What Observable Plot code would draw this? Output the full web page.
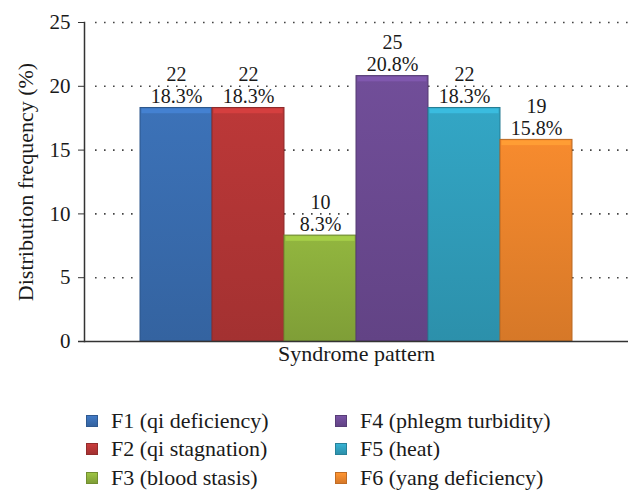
<!DOCTYPE html>
<html><head><meta charset="utf-8">
<script src="https://cdn.jsdelivr.net/npm/d3@7"></script>
<script src="https://cdn.jsdelivr.net/npm/@observablehq/plot@0.6"></script>
<style>
body{margin:0;background:#fff;font-family:"Liberation Serif","DejaVu Serif",serif;}
#legend{position:relative;width:642px;height:112px;}
.item{position:absolute;display:flex;align-items:center;height:22px;font-size:22px;color:#1a1a1a;line-height:1;white-space:nowrap;}
.sw{width:12px;height:12px;margin-right:13px;box-sizing:border-box;}
</style></head><body>
<div id="chart"></div><div id="legend"></div>
<script>
const codes = ["F1", "F2", "F3", "F4", "F5", "F6"];
const categories = ["F1 (qi deficiency)", "F2 (qi stagnation)", "F3 (blood stasis)", "F4 (phlegm turbidity)", "F5 (heat)", "F6 (yang deficiency)"];
const counts = [22, 22, 10, 25, 22, 19];
const percents = [18.3, 18.3, 8.3, 20.8, 18.3, 15.8];
const colors = ["#3a6eb2", "#b53636", "#8db03d", "#6d4b94", "#31a0be", "#ee862c"];
const yTicks = [0, 5, 10, 15, 20, 25];
const xLabel = "Syndrome pattern";
const yLabel = "Distribution frequency (%)";

const data = codes.map((c, i) => ({code: c, name: categories[i], count: counts[i], pct: percents[i], color: colors[i]}));
const ink = "#1a1a1a";
const font = "Liberation Serif, DejaVu Serif, serif";

const plot = Plot.plot({
  width: 642, height: 392,
  marginLeft: 84, marginRight: 14, marginTop: 22, marginBottom: 51,
  style: {fontFamily: font, fontSize: "21px", color: ink, background: "#fff"},
  x: {domain: codes, paddingInner: 0, paddingOuter: 0.743, axis: null},
  y: {domain: [0, 25], ticks: yTicks, axis: null},
  color: {type: "identity"},
  marks: [
    Plot.ruleY(yTicks.filter(t => t > 0), {stroke: "#444", strokeWidth: 1.6, strokeDasharray: "1.6 7.4", insetLeft: 11}),
    Plot.barY(data, {x: "code", y: "pct", fill: "color", stroke: d => d3.color(d.color).darker(0.7).formatHex(), strokeWidth: 1}),
    Plot.barY(data, {x: "code", y1: d => d.pct - 0.45, y2: "pct", fill: d => d3.color(d.color).brighter(0.45).formatHex(), insetLeft: 1.5, insetRight: 1.5, insetTop: 1}),
    Plot.text(data, {x: "code", y: "pct", text: d => `${d.count}\n${d.pct}%`, lineAnchor: "bottom", dy: -5, fontSize: 20, lineHeight: 1.08, fill: ink, fontFamily: font}),
    Plot.axisY({ticks: yTicks, tickSize: 6, tickPadding: 8, tickFormat: d => d, label: null, fontSize: 21, stroke: "#333", fill: ink, fontFamily: font}),
    Plot.frame({anchor: "left", stroke: "#333", strokeWidth: 1.5}),
    Plot.ruleY([0], {stroke: "#333", strokeWidth: 1.5, insetLeft: -6}),
    Plot.text([yLabel], {frameAnchor: "left", textAnchor: "middle", rotate: -90, dx: -59, fontSize: 22, fill: ink, fontFamily: font}),
    Plot.text([xLabel], {frameAnchor: "bottom", dy: 19, fontSize: 22, fill: ink, fontFamily: font})
  ]
});
document.getElementById("chart").appendChild(plot);

// vertical gradients for the bars
const svgns = "http://www.w3.org/2000/svg";
const defs = document.createElementNS(svgns, "defs");
colors.forEach((c, i) => {
  const g = document.createElementNS(svgns, "linearGradient");
  g.setAttribute("id", "grad" + i);
  g.setAttribute("x1", "0"); g.setAttribute("y1", "0"); g.setAttribute("x2", "0"); g.setAttribute("y2", "1");
  [[0, d3.color(c).brighter(0.1).formatHex()], [1, d3.color(c).darker(0.3).formatHex()]].forEach(([o, col]) => {
    const s = document.createElementNS(svgns, "stop");
    s.setAttribute("offset", o); s.setAttribute("stop-color", col);
    g.appendChild(s);
  });
  defs.appendChild(g);
});
plot.insertBefore(defs, plot.firstChild);
const barGroup = plot.querySelectorAll('g[aria-label="bar"]')[0];
barGroup.querySelectorAll("rect").forEach((r, i) => r.setAttribute("fill", `url(#grad${i})`));

// legend
const legend = document.getElementById("legend");
const colX = [86, 335];
const rowC = [29, 57, 86];
categories.forEach((name, i) => {
  const col = Math.floor(i / 3), row = i % 3;
  const it = document.createElement("div");
  it.className = "item";
  it.style.left = colX[col] + "px";
  it.style.top = (rowC[row] - 11) + "px";
  const sw = document.createElement("span");
  sw.className = "sw";
  sw.style.background = `linear-gradient(${d3.color(colors[i]).brighter(0.3).formatHex()}, ${d3.color(colors[i]).darker(0.3).formatHex()})`;
  sw.style.border = "1px solid " + d3.color(colors[i]).darker(0.6).formatHex();
  const tx = document.createElement("span");
  tx.textContent = name;
  it.appendChild(sw); it.appendChild(tx);
  legend.appendChild(it);
});
</script>
</body></html>
